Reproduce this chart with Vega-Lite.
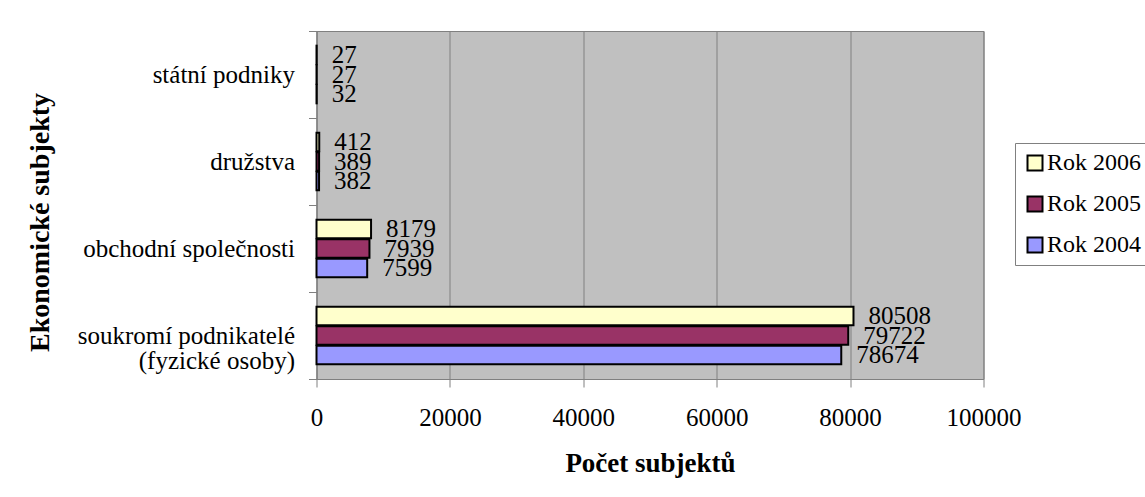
{
  "$schema": "https://vega.github.io/schema/vega-lite/v6.json",
  "width": 667,
  "height": 348,
  "autosize": "none",
  "padding": {"left": 316.5, "top": 31, "right": 161.5, "bottom": 118},
  "background": "white",
  "config": {
    "font": "Liberation Serif",
    "view": {"fill": "#C0C0C0", "stroke": "#808080", "strokeWidth": 1},
    "axis": {
      "labelFont": "Liberation Serif",
      "labelFontSize": 25,
      "labelColor": "black",
      "titleFont": "Liberation Serif",
      "titleFontSize": 27,
      "titleFontWeight": "bold",
      "titleColor": "black",
      "domainColor": "#808080",
      "tickColor": "#808080",
      "tickSize": 8
    },
    "legend": {
      "labelFont": "Liberation Serif",
      "labelFontSize": 24,
      "labelColor": "black",
      "symbolType": "square",
      "symbolSize": 225,
      "symbolStrokeColor": "black",
      "symbolStrokeWidth": 2,
      "padding": 8,
      "rowPadding": 17,
      "strokeColor": "#808080",
      "fillColor": "white",
      "labelOffset": 0,
      "cornerRadius": 0
    }
  },
  "data": {
    "values": [
      {"subjekt": "státní podniky", "rok": "Rok 2006", "pocet": 27},
      {"subjekt": "státní podniky", "rok": "Rok 2005", "pocet": 27},
      {"subjekt": "státní podniky", "rok": "Rok 2004", "pocet": 32},
      {"subjekt": "družstva", "rok": "Rok 2006", "pocet": 412},
      {"subjekt": "družstva", "rok": "Rok 2005", "pocet": 389},
      {"subjekt": "družstva", "rok": "Rok 2004", "pocet": 382},
      {"subjekt": "obchodní společnosti", "rok": "Rok 2006", "pocet": 8179},
      {"subjekt": "obchodní společnosti", "rok": "Rok 2005", "pocet": 7939},
      {"subjekt": "obchodní společnosti", "rok": "Rok 2004", "pocet": 7599},
      {"subjekt": "soukromí podnikatelé (fyzické osoby)", "rok": "Rok 2006", "pocet": 80508},
      {"subjekt": "soukromí podnikatelé (fyzické osoby)", "rok": "Rok 2005", "pocet": 79722},
      {"subjekt": "soukromí podnikatelé (fyzické osoby)", "rok": "Rok 2004", "pocet": 78674}
    ]
  },
  "encoding": {
    "y": {
      "field": "subjekt",
      "type": "nominal",
      "sort": ["státní podniky", "družstva", "obchodní společnosti", "soukromí podnikatelé (fyzické osoby)"],
      "scale": {"paddingInner": 0, "paddingOuter": 0},
      "axis": {
        "title": "Ekonomické subjekty",
        "titleFontSize": 28,
        "tickBand": "extent",
        "labelPadding": 14,
        "labelLineHeight": 25,
        "labelLimit": 400,
        "titleX": -276,
        "titleY": 191,
        "titleBaseline": "middle",
        "titleAlign": "center",
        "titleAngle": -90,
        "labelExpr": "datum.value == 'soukromí podnikatelé (fyzické osoby)' ? ['soukromí podnikatelé', '(fyzické osoby)\u00a0\u00a0\u00a0\u00a0\u00a0'] : datum.label"
      }
    },
    "yOffset": {
      "field": "rok",
      "type": "nominal",
      "sort": ["Rok 2006", "Rok 2005", "Rok 2004"],
      "scale": {"paddingInner": 0.05, "paddingOuter": 0.75}
    },
    "x": {
      "field": "pocet",
      "type": "quantitative",
      "scale": {"domain": [0, 100000], "nice": false},
      "axis": {
        "title": "Počet subjektů",
        "values": [0, 20000, 40000, 60000, 80000, 100000],
        "format": "d",
        "grid": true,
        "gridColor": "#808080",
        "labelFlush": false,
        "labelPadding": 18,
        "titlePadding": 20
      }
    }
  },
  "layer": [
    {
      "mark": {"type": "bar", "stroke": "black", "strokeWidth": 2},
      "encoding": {
        "color": {
          "field": "rok",
          "type": "nominal",
          "scale": {"domain": ["Rok 2006", "Rok 2005", "Rok 2004"], "range": ["#FFFFCC", "#993366", "#9999FF"]},
          "legend": {
            "title": null,
            "orient": "none",
            "legendX": 698.5,
            "legendY": 112,
            "labelLimit": 200
          }
        }
      }
    },
    {
      "mark": {"type": "text", "align": "left", "baseline": "middle", "dx": 15, "fontSize": 25, "font": "Liberation Serif", "color": "black"},
      "encoding": {
        "text": {"field": "pocet", "type": "quantitative", "format": "d"}
      }
    }
  ]
}
